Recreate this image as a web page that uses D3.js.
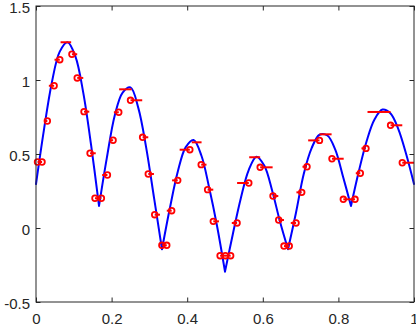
<!DOCTYPE html>
<html>
<head>
<meta charset="utf-8">
<script src="https://cdn.jsdelivr.net/npm/d3@7"></script>
<style>
  body { margin: 0; background: #fff; }
  svg { display: block; font-family: "Liberation Sans", Arial, sans-serif; }
  .axis text { fill: #262626; font-size: 15px; }
  .axis path, .axis line { stroke: #262626; }
</style>
</head>
<body>
<svg id="chart" width="416" height="327"></svg>
<script>
/*global d3*/

// ticks
var xTicks = [0, 0.2, 0.4, 0.6, 0.8, 1],
    xTickLabels = ['0', '0.2', '0.4', '0.6', '0.8', '1'],
    yTicks = [-0.5, 0, 0.5, 1, 1.5],
    yTickLabels = ['-0.5', '0', '0.5', '1', '1.5'];

// blue signal
var signalX = [0, 0.0208, 0.0417, 0.0625, 0.0833, 0.1042, 0.125, 0.1458,
               0.1667, 0.1875, 0.2083, 0.2292, 0.25, 0.2708, 0.2917, 0.3125,
               0.3333, 0.3542, 0.375, 0.3958, 0.4167, 0.4375, 0.4583, 0.4792,
               0.5, 0.5208, 0.5417, 0.5625, 0.5833, 0.6042, 0.625, 0.6458,
               0.6667, 0.6875, 0.7083, 0.7292, 0.75, 0.7708, 0.7917, 0.8125,
               0.8333, 0.8542, 0.875, 0.8958, 0.9167, 0.9375, 0.9583, 0.9792, 1],
    signalY = [0.297, 0.66, 0.98, 1.19, 1.255, 1.16, 0.915, 0.56,
               0.149, 0.475, 0.76, 0.915, 0.95, 0.81, 0.54, 0.2,
               -0.144, 0.135, 0.38, 0.545, 0.595, 0.49, 0.27, 0.01,
               -0.295, -0.04, 0.2, 0.39, 0.482, 0.42, 0.25, 0.04,
               -0.144, 0.10, 0.365, 0.54, 0.63, 0.625, 0.53, 0.345,
               0.149, 0.385, 0.59, 0.735, 0.80, 0.775, 0.67, 0.5, 0.297];

// red samples (circles)
var sampleX = [0.004, 0.016, 0.030, 0.048, 0.063, 0.095, 0.109, 0.127, 0.143,
               0.156, 0.173, 0.189, 0.204, 0.219, 0.250, 0.282, 0.297, 0.314,
               0.333, 0.346, 0.359, 0.375, 0.407, 0.437, 0.454, 0.469, 0.487,
               0.501, 0.515, 0.532, 0.563, 0.593, 0.627, 0.642, 0.656, 0.670,
               0.688, 0.703, 0.717, 0.750, 0.783, 0.813, 0.844, 0.858, 0.873,
               0.938, 0.969],
    sampleY = [0.446, 0.446, 0.723, 0.961, 1.137, 1.174, 1.014, 0.786, 0.505,
               0.201, 0.201, 0.358, 0.593, 0.782, 0.863, 0.613, 0.365, 0.090,
               -0.117, -0.117, 0.117, 0.322, 0.529, 0.428, 0.259, 0.045, -0.187,
               -0.187, -0.187, 0.034, 0.304, 0.410, 0.216, 0.054, -0.122, -0.122,
               0.034, 0.241, 0.414, 0.592, 0.468, 0.194, 0.194, 0.370, 0.538,
               0.694, 0.441];

// red hold segments
var holdStart = [0.004, 0.024, 0.034, 0.049, 0.065, 0.095, 0.109, 0.127, 0.143,
                 0.156, 0.175, 0.196, 0.206, 0.220, 0.250, 0.282, 0.297, 0.314,
                 0.333, 0.346, 0.360, 0.380, 0.412, 0.437, 0.454, 0.469, 0.487,
                 0.518, 0.532, 0.564, 0.593, 0.627, 0.642, 0.656, 0.674, 0.689,
                 0.705, 0.720, 0.750, 0.783, 0.813, 0.846, 0.861, 0.877, 0.938,
                 0.969],
    holdEnd = [0.016, 0.030, 0.048, 0.063, 0.093, 0.109, 0.125, 0.141, 0.158,
               0.173, 0.189, 0.204, 0.219, 0.253, 0.281, 0.297, 0.312, 0.328,
               0.346, 0.359, 0.375, 0.407, 0.438, 0.451, 0.469, 0.484, 0.515,
               0.532, 0.563, 0.593, 0.626, 0.641, 0.656, 0.670, 0.688, 0.703,
               0.717, 0.750, 0.782, 0.814, 0.844, 0.858, 0.873, 0.938, 0.969,
               1.0],
    holdLevel = [0.446, 0.723, 0.961, 1.137, 1.255, 1.174, 1.014, 0.786, 0.505,
                 0.201, 0.358, 0.593, 0.782, 0.937, 0.863, 0.613, 0.365, 0.090,
                 -0.117, 0.117, 0.322, 0.529, 0.579, 0.428, 0.259, 0.045, -0.187,
                 0.034, 0.304, 0.478, 0.410, 0.216, 0.054, -0.122, 0.034, 0.241,
                 0.414, 0.592, 0.633, 0.468, 0.194, 0.370, 0.538, 0.784, 0.694,
                 0.441];

var svg = d3.select('#chart'),
    margin = {top: 6, right: 2, bottom: 25, left: 36},
    width = 416 - margin.left - margin.right,
    height = 327 - margin.top - margin.bottom,
    g = svg.append('g')
        .attr('transform', 'translate(' + margin.left + ',' + margin.top + ')'),
    x = d3.scaleLinear().domain([0, 1]).range([0, width]),
    y = d3.scaleLinear().domain([-0.5, 1.5]).range([height, 0]),
    tick = 4.5;

/**
 * Split the signal at its sharp minima so that each lobe gets its own
 * smooth curve and the V shapes stay pointed.
 */
var signal = signalX.map(function (d, i) { return [d, signalY[i]]; }),
    lobes = [],
    current = [signal[0]];
signal.slice(1).forEach(function (p, j) {
    var i = j + 1;
    current.push(p);
    if (i < signal.length - 1 && p[1] < signal[i - 1][1] && p[1] < signal[i + 1][1]) {
        lobes.push(current);
        current = [p];
    }
});
lobes.push(current);

var line = d3.line()
    .x(function (d) { return x(d[0]); })
    .y(function (d) { return y(d[1]); })
    .curve(d3.curveCatmullRom.alpha(0.5));

g.append('path')
    .attr('d', lobes.map(function (l) { return line(l); }).join(''))
    .attr('fill', 'none')
    .attr('stroke', '#0000ff')
    .attr('stroke-width', 2)
    .attr('stroke-linecap', 'round')
    .attr('stroke-linejoin', 'round');

g.selectAll('line.hold')
    .data(holdLevel)
    .enter().append('line')
    .attr('class', 'hold')
    .attr('x1', function (d, i) { return x(holdStart[i]); })
    .attr('x2', function (d, i) { return x(holdEnd[i]); })
    .attr('y1', function (d) { return y(d); })
    .attr('y2', function (d) { return y(d); })
    .attr('stroke', '#ff0000')
    .attr('stroke-width', 2);

g.selectAll('circle.sample')
    .data(sampleY)
    .enter().append('circle')
    .attr('class', 'sample')
    .attr('cx', function (d, i) { return x(sampleX[i]); })
    .attr('cy', function (d) { return y(d); })
    .attr('r', 2.8)
    .attr('fill', 'none')
    .attr('stroke', '#ff0000')
    .attr('stroke-width', 1.8);

// box axes, ticks pointing inward like matlab
function fmt(labels, ticks) {
    return function (d) { return labels[ticks.indexOf(d)]; };
}

g.append('g')
    .attr('class', 'axis')
    .attr('transform', 'translate(0,' + height + ')')
    .call(d3.axisBottom(x).tickValues(xTicks).tickFormat(fmt(xTickLabels, xTicks))
          .tickSizeInner(-tick).tickSizeOuter(0).tickPadding(11));

g.append('g')
    .attr('class', 'axis y')
    .call(d3.axisLeft(y).tickValues(yTicks).tickFormat(fmt(yTickLabels, yTicks))
          .tickSizeInner(-tick).tickSizeOuter(0).tickPadding(6));

// labels sit a touch below their ticks in the original
g.selectAll('.axis.y text').attr('dy', '0.45em');

g.append('g')
    .attr('class', 'axis')
    .call(d3.axisTop(x).tickValues(xTicks).tickFormat('')
          .tickSizeInner(-tick).tickSizeOuter(0));

g.append('g')
    .attr('class', 'axis')
    .attr('transform', 'translate(' + width + ',0)')
    .call(d3.axisRight(y).tickValues(yTicks).tickFormat('')
          .tickSizeInner(-tick).tickSizeOuter(0));

g.selectAll('.axis .domain').remove();

g.append('rect')
    .attr('width', width)
    .attr('height', height)
    .attr('fill', 'none')
    .attr('stroke', '#262626')
    .attr('stroke-width', 1);
</script>
</body>
</html>
